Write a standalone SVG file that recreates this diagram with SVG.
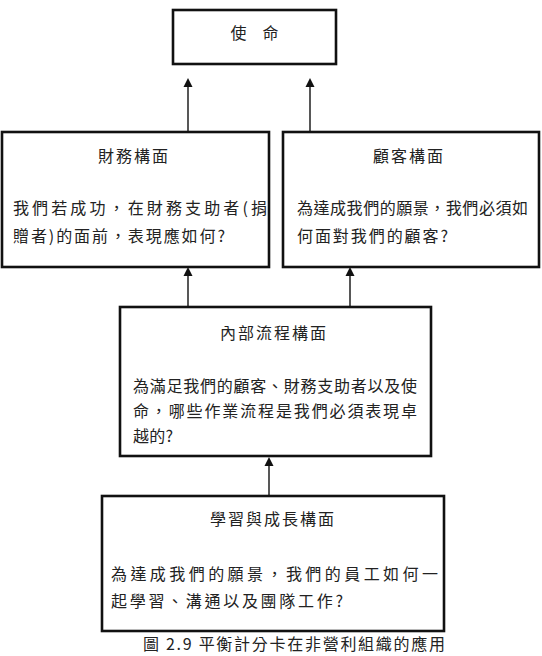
<svg xmlns="http://www.w3.org/2000/svg" width="542" height="656" viewBox="0 0 542 656">
<style>
.box{fill:#fff;stroke:#111;stroke-width:2.6}
.t{font-family:"Noto Sans CJK TC","Noto Sans CJK SC",sans-serif;font-size:16px;fill:#222;dominant-baseline:central}
.c{text-anchor:middle}
.ln{stroke:#111;stroke-width:1.4;fill:none}
.ah{fill:#111}
</style>
<rect width="542" height="656" fill="#fff"/>
<g id="connectors">
<line class="ln" x1="188" y1="132" x2="188" y2="86"/><polygon class="ah" points="188,78 183.5,87 192.5,87"/>
<line class="ln" x1="310" y1="132" x2="310" y2="86"/><polygon class="ah" points="310,78 305.5,87 314.5,87"/>
<line class="ln" x1="188" y1="307" x2="188" y2="275"/><polygon class="ah" points="188,267 183.5,276 192.5,276"/>
<line class="ln" x1="350" y1="307" x2="350" y2="275"/><polygon class="ah" points="350,267 345.5,276 354.5,276"/>
<line class="ln" x1="269" y1="496" x2="269" y2="465"/><polygon class="ah" points="269,457 264.5,466 273.5,466"/>
</g>
<g id="mission">
<rect class="box" x="173" y="10" width="163" height="54"/>
<text class="t c" x="254.5" y="32">使　命</text>
</g>
<g id="financial">
<rect class="box" x="2" y="132" width="267" height="135"/>
<text class="t c" x="134" y="155" letter-spacing="2">財務構面</text>
<text class="t" x="13" y="207" textLength="254" lengthAdjust="spacing">我們若成功，在財務支助者(捐</text>
<text class="t" x="13" y="235" textLength="212" lengthAdjust="spacing">贈者)的面前，表現應如何?</text>
</g>
<g id="customer">
<rect class="box" x="283" y="132" width="256" height="135"/>
<text class="t c" x="409" y="155" letter-spacing="2">顧客構面</text>
<text class="t" x="297" y="207" textLength="231" lengthAdjust="spacing">為達成我們的願景，我們必須如</text>
<text class="t" x="297" y="235" textLength="151" lengthAdjust="spacing">何面對我們的顧客?</text>
</g>
<g id="internal">
<rect class="box" x="120" y="307" width="311" height="149"/>
<text class="t c" x="274" y="332" letter-spacing="2">內部流程構面</text>
<text class="t" x="133" y="385" textLength="284" lengthAdjust="spacing">為滿足我們的顧客、財務支助者以及使</text>
<text class="t" x="133" y="410" textLength="284" lengthAdjust="spacing">命，哪些作業流程是我們必須表現卓</text>
<text class="t" x="133" y="435" textLength="40" lengthAdjust="spacing">越的?</text>
</g>
<g id="learning">
<rect class="box" x="102" y="496" width="342" height="135"/>
<text class="t c" x="273" y="518" letter-spacing="2">學習與成長構面</text>
<text class="t" x="111" y="573" textLength="327" lengthAdjust="spacing">為達成我們的願景，我們的員工如何一</text>
<text class="t" x="111" y="600" textLength="232" lengthAdjust="spacing">起學習、溝通以及團隊工作?</text>
</g>
<text class="t" x="143" y="643" font-size="12" textLength="302" lengthAdjust="spacing">圖 2.9 平衡計分卡在非營利組織的應用</text>
</svg>
